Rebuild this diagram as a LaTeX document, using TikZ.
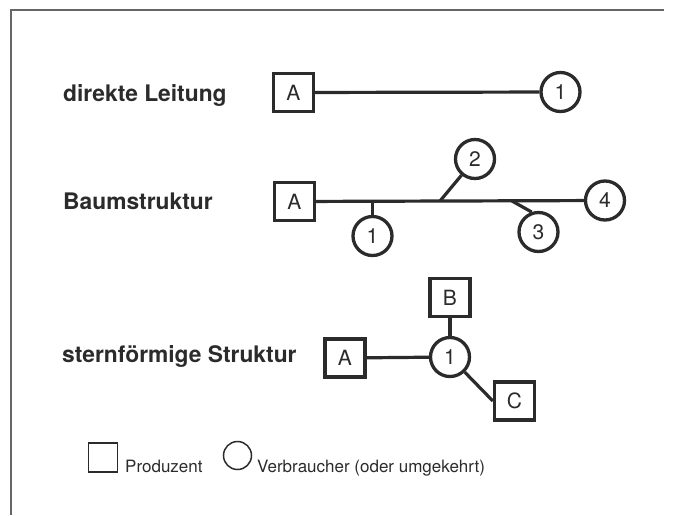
\documentclass[tikz,border=0pt]{standalone}
\usepackage{fontspec}
\setmainfont{TeX Gyre Heros}
\usetikzlibrary{calc}
\definecolor{ink}{gray}{0.17}
\tikzset{
	prod/.style={draw=ink, line width=3.3pt, minimum width=40pt, minimum height=38pt, inner sep=0pt, text=ink, font=\fontsize{21}{21}\selectfont},
	verb/.style={circle, draw=ink, line width=3.3pt, minimum size=39pt, inner sep=0pt, text=ink, font=\fontsize{21}{21}\selectfont},
	wire/.style={draw=ink, line width=3.2pt},
	titel/.style={anchor=base west, inner sep=0pt, text=ink, font=\bfseries\fontsize{22.8}{22.8}\selectfont},
	legtext/.style={anchor=base west, inner sep=0pt, text=ink, font=\fontsize{17}{17}\selectfont}
}

\begin{document}
\begin{tikzpicture}[x=1pt, y=-1pt]
		%%%%% START %%%%%
		\useasboundingbox (0, 0) rectangle (673, 515);
		
		\draw[line width=1.4pt, color=black!60] (11, 515) -- (11, 10) -- (664, 10);
		
		% direkte Leitung
		\node[titel] (t1) at (63, 101) {direkte Leitung};
		\node[prod] (dA) at (293.5, 92.5) {A};
		\node[verb] (d1) at (560.5, 92) {1};
		\draw[wire] (dA) -- (d1);
		
		% Baumstruktur
		\node[titel] (t2) at (63, 209) {Baumstruktur};
		\node[prod] (bA) at (294.5, 201.5) {A};
		\node[verb] (b1) at (372.5, 236) {1};
		\node[verb] (b2) at (475, 159) {2};
		\node[verb] (b3) at (538.5, 232) {3};
		\node[verb] (b4) at (605, 200.5) {4};
		\draw[wire] (bA) -- (b4);
		\coordinate (k1) at (372.5, 201);
		\coordinate (k2) at (440, 201);
		\coordinate (k3) at (512, 201);
		\draw[wire] (k1) -- (b1);
		\draw[wire] (k2) -- (b2);
		\draw[wire] (k3) -- (b3.109);
		
		% sternfoermige Struktur
		\node[titel] (t3) at (62, 362) {sternförmige Struktur};
		\node[prod] (sA) at (345, 358) {A};
		\node[verb] (s1) at (450, 357) {1};
		\node[prod] (sB) at (450, 297.5) {B};
		\node[prod] (sC) at (514.5, 401) {C};
		\draw[wire] (sA) -- (s1);
		\draw[wire] (sB) -- (s1);
		\draw[wire] (s1) -- (sC.west);
		
		% Legende
		\node[draw=ink, line width=1.5pt, minimum size=29pt, inner sep=0pt] (lP) at (103, 457.5) {};
		\node[legtext] (lPt) at (125, 472) {Produzent};
		\node[circle, draw=ink, line width=1.5pt, minimum size=28pt, inner sep=0pt] (lV) at (237.5, 455.5) {};
		\node[legtext] (lVt) at (257, 472) {Verbraucher (oder umgekehrt)};
		
		%%%%% END %%%%%
	\end{tikzpicture}
\end{document}
